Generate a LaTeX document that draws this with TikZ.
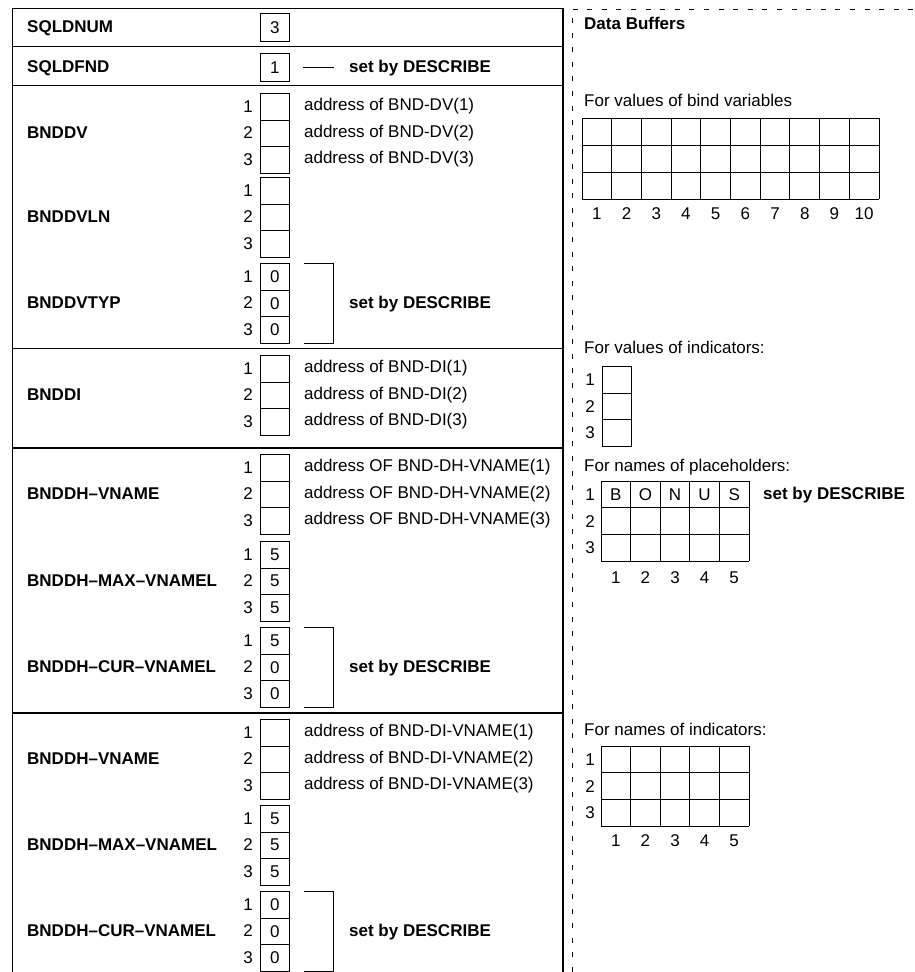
\documentclass[tikz,border=0pt]{standalone}
\usepackage{fontspec}
\setmainfont{Liberation Sans}
\newcommand{\fs}{\fontsize{17}{20}\selectfont}
% stack of three cells: name, top y, three values
\newcommand{\mystack}[5]{%
  \foreach \i/\v in {1/#3,2/#4,3/#5}{%
    \node[cell] (#1-\i) at (260,{#2+(\i-1)*26.5}) {\v};
    \node[idx] (#1-n\i) at (253,{#2+(\i-0.5)*26.5}) {\i};
  }%
}
\newcommand{\mybracket}[1]{%
  \draw[brk] ([xshift=14pt]#1-1.north east) -- ([xshift=44pt]#1-1.north east)
    -- ([xshift=44pt]#1-3.south east) -- ([xshift=14pt]#1-3.south east);
}
\begin{document}
\begin{tikzpicture}[x=1pt,y=-1pt,
  every node/.style={font=\fs, inner sep=0pt},
  cell/.style={draw, line width=0.9pt, minimum width=29pt, minimum height=26.5pt, anchor=north west},
  idx/.style={anchor=east, text height=12.2pt, text depth=0pt},
  lbl/.style={anchor=west, font=\fs\bfseries, text height=12.2pt, text depth=0pt},
  note/.style={anchor=west, text height=12.2pt, text depth=0pt},
  setby/.style={anchor=west, font=\fs\bfseries, text height=12.2pt, text depth=0pt},
  frame/.style={line width=1.3pt},
  brk/.style={line width=1pt},
  gridline/.style={line width=1pt},
  dashline/.style={line width=1pt, dash pattern=on 5pt off 9.6pt}
]
\useasboundingbox (0,0) rectangle (914,972);

% main frame
\draw[frame] (12.5,972) -- (12.5,8.5) -- (563,8.5) -- (563,972);
\foreach \yy in {46.5,85.5,348.5,448,713}{
  \draw[frame] (12.5,\yy) -- (563,\yy);
}

% SQLDNUM / SQLDFND
\node[lbl] (l-num) at (27,26.5) {SQLDNUM};
\node[cell, minimum height=27.5pt] (num) at (260,13) {3};
\node[lbl] (l-fnd) at (27,66.5) {SQLDFND};
\node[cell, minimum height=27.5pt] (fnd) at (260,53) {1};
\coordinate (fnd-a) at ([xshift=13pt]fnd.east);
\coordinate (fnd-b) at ([xshift=44pt]fnd.east);
\draw[brk] (fnd-a) -- (fnd-b);
\node[setby] (fnd-s) at (349,66.5) {set by DESCRIBE};

% BNDDV
\mystack{dv}{93}{}{}{}
\node[lbl] (l-dv) at (27,132.75) {BNDDV};
\foreach \i in {1,2,3}{
  \node[note] (dv-a\i) at ([xshift=14pt,yshift=2pt]dv-\i.east) {address of BND-DV(\i)};
}
% BNDDVLN
\mystack{dvln}{177}{}{}{}
\node[lbl] (l-dvln) at (27,216.75) {BNDDVLN};
% BNDDVTYP
\mystack{typ}{263}{0}{0}{0}
\node[lbl] (l-typ) at (27,302.75) {BNDDVTYP};
\mybracket{typ}
\node[setby] (typ-s) at (349,302.75) {set by DESCRIBE};

% BNDDI
\mystack{di}{355}{}{}{}
\node[lbl] (l-di) at (27,394.75) {BNDDI};
\foreach \i in {1,2,3}{
  \node[note] (di-a\i) at ([xshift=14pt,yshift=2pt]di-\i.east) {address of BND-DI(\i)};
}

% BNDDH-VNAME (placeholders)
\mystack{hv}{454}{}{}{}
\node[lbl] (l-hv) at (27,493.75) {BNDDH–VNAME};
\foreach \i in {1,2,3}{
  \node[note] (hv-a\i) at ([xshift=14pt,yshift=2pt]hv-\i.east) {address OF BND-DH-VNAME(\i)};
}
\mystack{hmax}{541}{5}{5}{5}
\node[lbl] (l-hmax) at (27,580.75) {BNDDH–MAX–VNAMEL};
\mystack{hcur}{627}{5}{0}{0}
\node[lbl] (l-hcur) at (27,666.75) {BNDDH–CUR–VNAMEL};
\mybracket{hcur}
\node[setby] (hcur-s) at (349,666.75) {set by DESCRIBE};

% BNDDH-VNAME (indicators)
\mystack{iv}{719}{}{}{}
\node[lbl] (l-iv) at (27,758.75) {BNDDH–VNAME};
\foreach \i in {1,2,3}{
  \node[note] (iv-a\i) at ([xshift=14pt,yshift=2pt]iv-\i.east) {address of BND-DI-VNAME(\i)};
}
\mystack{imax}{805}{5}{5}{5}
\node[lbl] (l-imax) at (27,844.75) {BNDDH–MAX–VNAMEL};
\mystack{icur}{891}{0}{0}{0}
\node[lbl] (l-icur) at (27,930.75) {BNDDH–CUR–VNAMEL};
\mybracket{icur}
\node[setby] (icur-s) at (349,930.75) {set by DESCRIBE};

% ---------- Data buffers ----------
\draw[dashline] (572,972) -- (572,9) -- (914,9);
\node[lbl] (db) at (584,23) {Data Buffers};

% bind variable values
\node[note] (fv) at (584,100) {For values of bind variables};
\foreach \c in {0,...,10}{
  \draw[gridline] ({582+29.7*\c},118) -- ({582+29.7*\c},199);
}
\foreach \r in {0,...,3}{
  \draw[gridline] (582,{118+27*\r}) -- (879,{118+27*\r});
}
\foreach \c in {1,...,10}{
  \node[idx, anchor=center] (bv-c\c) at ({582+29.7*(\c-0.5)},213) {\c};
}

% indicator values
\node[note] (fi) at (584,347) {For values of indicators:};
\foreach \i in {1,2,3}{
  \node[cell, minimum height=26.7pt] (ind-\i) at (602,{366+26.7*(\i-1)}) {};
  \node[idx] (ind-n\i) at (595,{366+26.7*(\i-0.5)}) {\i};
}

% placeholder names
\node[note] (fp) at (584,465) {For names of placeholders:};
\foreach \c in {0,...,5}{
  \draw[gridline] ({601+29.6*\c},481) -- ({601+29.6*\c},561);
}
\foreach \r in {0,...,3}{
  \draw[gridline] (601,{481+26.67*\r}) -- (749,{481+26.67*\r});
}
\foreach \c/\l in {1/B,2/O,3/N,4/U,5/S}{
  \node[idx, anchor=center] (ph-l\c) at ({601+29.6*(\c-0.5)},494.3) {\l};
  \node[idx, anchor=center] (ph-c\c) at ({601+29.6*(\c-0.5)},577) {\c};
}
\foreach \i in {1,2,3}{
  \node[idx] (ph-n\i) at (595,{481+26.67*(\i-0.5)}) {\i};
}
\node[setby] (ph-s) at (763,493) {set by DESCRIBE};

% indicator names
\node[note] (fn) at (584,729) {For names of indicators:};
\foreach \c in {0,...,5}{
  \draw[gridline] ({601+29.6*\c},746) -- ({601+29.6*\c},826);
}
\foreach \r in {0,...,3}{
  \draw[gridline] (601,{746+26.67*\r}) -- (749,{746+26.67*\r});
}
\foreach \c in {1,...,5}{
  \node[idx, anchor=center] (in-c\c) at ({601+29.6*(\c-0.5)},840) {\c};
}
\foreach \i in {1,2,3}{
  \node[idx] (in-n\i) at (595,{746+26.67*(\i-0.5)}) {\i};
}
\end{tikzpicture}
\end{document}
